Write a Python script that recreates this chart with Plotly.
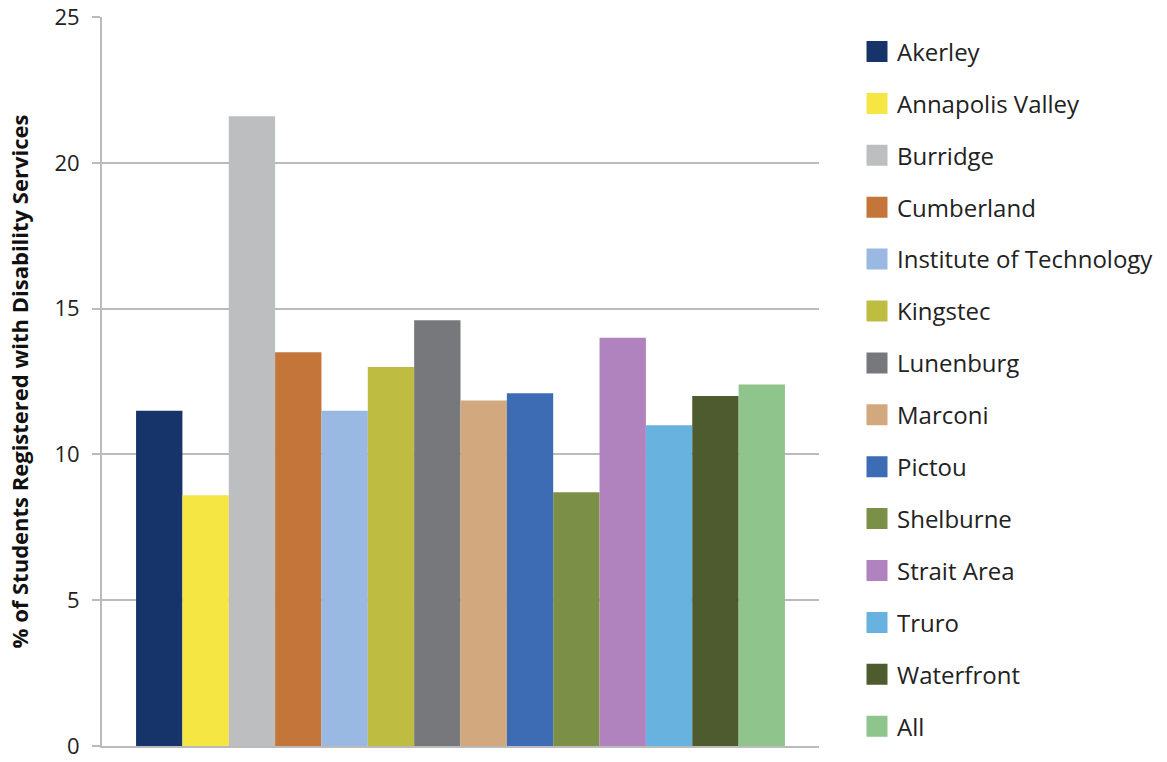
import plotly.graph_objects as go

colleges = ["Akerley", "Annapolis Valley", "Burridge", "Cumberland",
            "Institute of Technology", "Kingstec", "Lunenburg", "Marconi",
            "Pictou", "Shelburne", "Strait Area", "Truro", "Waterfront", "All"]
values = [11.5, 8.6, 21.6, 13.5, 11.5, 13.0, 14.6, 11.85, 12.1, 8.7, 14.0, 11.0, 12.0, 12.4]
colors = ["#17346A", "#F5E644", "#BDBEC0", "#C4763A", "#99B9E2", "#BFBC42",
          "#77787C", "#D2A97E", "#3D6CB4", "#7C8F47", "#B083BF", "#67B2DE",
          "#4E5B2E", "#8FC48D"]
y_ticks = [0, 5, 10, 15, 20, 25]
y_title = "% of Students Registered with Disability Services"

FONT = "Open Sans"

fig = go.Figure()
for name, v, c in zip(colleges, values, colors):
    fig.add_trace(go.Bar(
        x=[0], y=[v], name=name, marker=dict(color=c, line=dict(width=0)),
        showlegend=False, legendgroup=name, hoverinfo="name+y"))
for name, c in zip(colleges, colors):
    fig.add_trace(go.Scatter(
        x=[None], y=[None], mode="markers", name=name, legendgroup=name,
        marker=dict(symbol="square", size=16, color=c,
                    line=dict(color=c, width=6)),
        showlegend=True))

fig.update_layout(
    width=1167, height=762,
    margin=dict(l=102, r=348, t=17, b=16, autoexpand=False),
    paper_bgcolor="white", plot_bgcolor="white",
    barmode="group", bargap=0.095, bargroupgap=0,
    font=dict(family=FONT, size=22, color="#222222"),
    legend=dict(x=1.053, xanchor="left", y=0.983, yanchor="top",
                font=dict(family=FONT, size=24, color="#222222"),
                tracegroupgap=17.7, bgcolor="rgba(0,0,0,0)", maxheight=1.0,
                itemclick=False, itemdoubleclick=False),
    xaxis=dict(range=[-0.5, 0.5], showticklabels=False, showgrid=False,
               zeroline=False, showline=True, linecolor="#BBBBBB", linewidth=2,
               ticks=""),
    yaxis=dict(range=[0, 25], tickvals=y_ticks, showgrid=True,
               gridcolor="#BBBBBB", gridwidth=2, zeroline=False,
               showline=True, linecolor="#BBBBBB", linewidth=2,
               ticks="outside", ticklen=8, tickcolor="#BBBBBB", tickwidth=2,
               ticklabelstandoff=8, ticklabeloverflow="allow",
               tickfont=dict(family=FONT, size=22, color="#222222"),
               title=dict(text=y_title, standoff=20,
                          font=dict(family=FONT, size=22, color="#111111",
                                    weight="bold"))),
)

fig.write_html("out.html")
